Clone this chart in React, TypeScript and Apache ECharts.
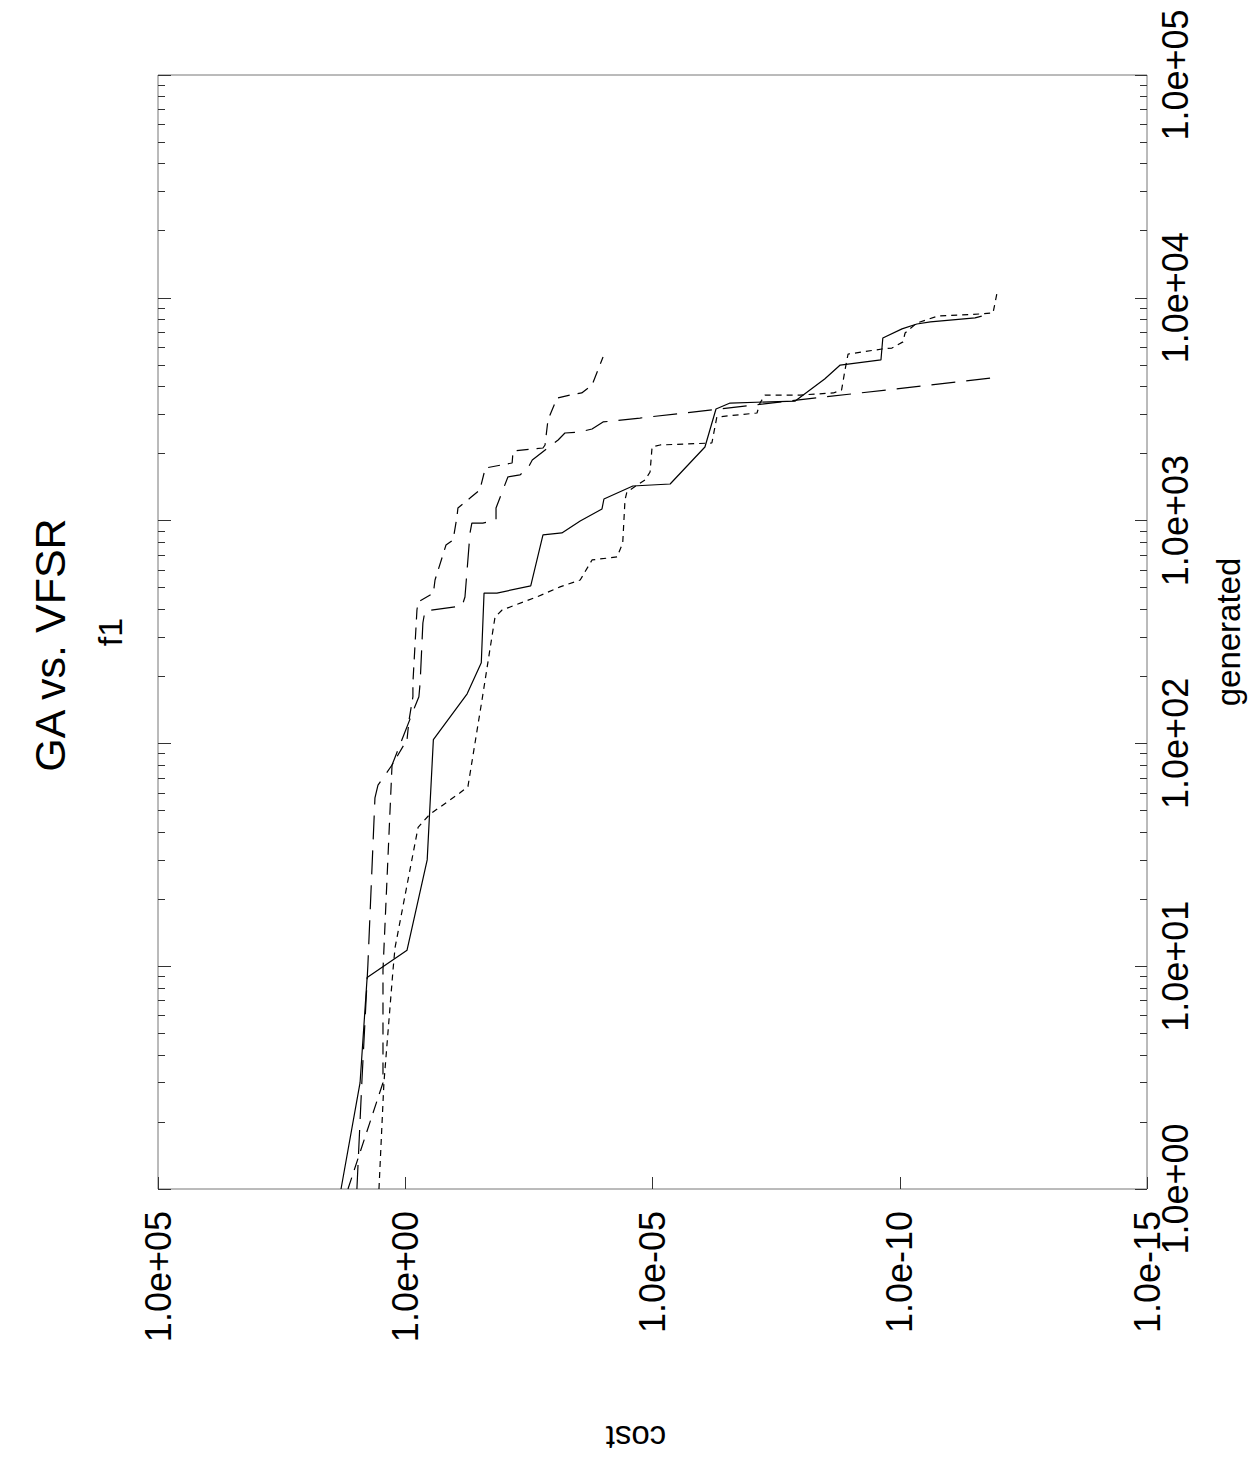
import React, { useEffect, useRef } from "react";
import * as echarts from "echarts";

// Tick values (data units)
const costTicks = [1e5, 1e0, 1e-5, 1e-10, 1e-15];
const generatedTicks = [1, 10, 100, 1000, 10000, 100000];

// Series: generated (function evaluations) and best cost
const solidGen = [1, 3.0, 8.9, 11.8, 30, 104, 167, 230, 473, 473, 509, 862, 880, 996, 1128, 1250, 1430, 1460, 2140, 3170, 3370, 3440, 4320, 4990, 5260, 6600, 7250, 7630, 7790, 8120, 8280];
const solidCost = [19.9, 8.2, 5.9, 0.92, 0.36, 0.27, 0.056, 0.029, 0.0255, 0.014, 2.9e-3, 1.64e-3, 6.8e-4, 2.9e-4, 1.05e-4, 9.6e-5, 2.5e-5, 4.4e-6, 8.7e-7, 5.2e-7, 2.7e-7, 1.3e-8, 3.3e-9, 1.6e-9, 2.4e-10, 2.2e-10, 9.0e-11, 4.5e-11, 2.4e-11, 3.0e-12, 2.2e-12];

const shortGen = [1, 3.0, 9.6, 12.1, 42, 48, 60, 64, 157, 369, 397, 454, 504, 541, 666, 687, 793, 1237, 1344, 1521, 1652, 2140, 2185, 2230, 2917, 3040, 3370, 3660, 3660, 3740, 3860, 4740, 5590, 5890, 5950, 6340, 6950, 7710, 8280, 8460, 8550, 10500];
const shortCost = [3.4, 2.7, 1.77, 1.61, 0.55, 0.32, 0.078, 0.054, 0.028, 0.0153, 0.011, 2.2e-3, 7.4e-4, 2.9e-4, 1.67e-4, 5.2e-5, 4.0e-5, 3.6e-5, 3.3e-5, 1.42e-5, 1.12e-5, 1.02e-5, 7.0e-6, 6.3e-7, 5.0e-7, 7.7e-8, 6.7e-8, 5.3e-8, 1.04e-8, 2.2e-9, 1.5e-9, 1.28e-9, 1.11e-9, 2.3e-10, 1.44e-10, 8.6e-11, 7.8e-11, 4.5e-11, 1.7e-11, 2.4e-12, 1.3e-12, 1.08e-12];

const mediumGen = [1, 3.0, 9.6, 80, 104, 127, 162, 187, 397, 431, 473, 541, 777, 818, 1038, 1140, 1262, 1372, 1722, 1814, 2053, 2118, 2185, 2830, 3550, 3660, 3740, 4060, 5420];
const mediumCost = [14.4, 2.82, 2.82, 1.85, 0.92, 0.84, 0.70, 0.70, 0.58, 0.55, 0.27, 0.25, 0.15, 0.108, 0.090, 0.086, 0.049, 0.031, 0.024, 6.9e-3, 6.6e-3, 1.64e-3, 1.49e-3, 1.30e-3, 8.5e-4, 4.7e-4, 2.7e-4, 1.67e-4, 1.0e-4];

const longGen = [1, 3.1, 10.1, 57, 65, 80, 146, 162, 187, 347, 393, 414, 454, 880, 975, 975, 1006, 1140, 1570, 1603, 1722, 1871, 2300, 2473, 2500, 2578, 2772, 2886, 4410];
const longCost = [9.5, 7.5, 5.7, 4.1, 3.56, 1.85, 0.64, 0.53, 0.50, 0.44, 0.40, 0.071, 0.062, 0.049, 0.045, 0.027, 0.0146, 0.0146, 8.4e-3, 4.8e-3, 3.3e-3, 2.7e-3, 8.1e-4, 5.9e-4, 2.9e-4, 1.67e-4, 1.0e-4, 1.8e-5, 9.4e-13];

const FONT = "Liberation Sans, Arial, Helvetica, sans-serif";

function fmtExp(logv: number): string {
  const e = Math.round(logv);
  return "1.0e" + (e < 0 ? "-" : "+") + String(Math.abs(e)).padStart(2, "0");
}

function toPoints(gen: number[], cost: number[]): number[][] {
  return gen.map((g, i) => [Math.log10(cost[i]), Math.log10(g)]);
}

const genMajor = generatedTicks.map((v) => Math.log10(v));
const genMinor: number[] = [];
for (let d = 0; d < genMajor.length - 1; d++) {
  for (let k = 2; k <= 9; k++) genMinor.push(genMajor[d] + Math.log10(k));
}
const costLog = costTicks.map((v) => Math.log10(v));

export default function App() {
  const ref = useRef<HTMLDivElement>(null);
  useEffect(() => {
    if (!ref.current) return;
    const chart = echarts.init(ref.current, undefined, { renderer: "svg" });
    const tickColor = "#333";
    const yBase = (position: string, values: number[], len: number, labels: boolean) => ({
      type: "value",
      min: 0,
      max: 5,
      position,
      axisLine: { show: false, onZero: false },
      splitLine: { show: false },
      axisTick: {
        show: true,
        inside: true,
        length: len,
        customValues: values,
        lineStyle: { color: tickColor, width: 1 },
      },
      axisLabel: labels
        ? {
            show: true,
            customValues: values,
            rotate: 90,
            margin: 10,
            fontSize: 36,
            color: "#000",
            fontFamily: FONT,
            formatter: (v: number) => fmtExp(v),
          }
        : { show: false },
    });
    const series = [
      { name: "solid", gen: solidGen, cost: solidCost, type: "solid" as any },
      { name: "short", gen: shortGen, cost: shortCost, type: [6, 5] as any },
      { name: "medium", gen: mediumGen, cost: mediumCost, type: [12, 8] as any },
      { name: "long", gen: longGen, cost: longCost, type: [24, 11] as any },
    ].map((s) => ({
      type: "line",
      name: s.name,
      xAxisIndex: 0,
      yAxisIndex: 0,
      data: toPoints(s.gen, s.cost),
      showSymbol: false,
      symbol: "none",
      lineStyle: { color: "#000", width: 1.2, type: s.type },
      silent: true,
    }));
    chart.setOption({
      animation: false,
      backgroundColor: "#fff",
      grid: {
        left: 158,
        top: 75,
        width: 989,
        height: 1114,
        show: true,
        borderColor: "#777",
        borderWidth: 1,
        backgroundColor: "transparent",
      },
      xAxis: [
        {
          type: "value",
          min: costLog[costLog.length - 1],
          max: costLog[0],
          interval: 5,
          inverse: true,
          position: "bottom",
          axisLine: { show: false, onZero: false },
          splitLine: { show: false },
          axisTick: { show: true, inside: true, length: 12, lineStyle: { color: tickColor } },
          axisLabel: {
            rotate: 90,
            margin: 22,
            fontSize: 36,
            color: "#000",
            fontFamily: FONT,
            formatter: (v: number) => fmtExp(v),
          },
        },
      ],
      yAxis: [
        yBase("right", genMajor, 12, true),
        yBase("right", genMinor, 7, false),
        yBase("left", genMajor, 13, false),
        yBase("left", genMinor, 7, false),
      ],
      graphic: [
        {
          type: "text",
          x: 50,
          y: 645,
          rotation: Math.PI / 2,
          style: { text: "GA vs. VFSR", fontSize: 43, fontFamily: FONT, fill: "#000", align: "center", verticalAlign: "middle" },
        },
        {
          type: "text",
          x: 110,
          y: 632,
          rotation: Math.PI / 2,
          style: { text: "f1", fontSize: 34, fontFamily: FONT, fill: "#000", align: "center", verticalAlign: "middle" },
        },
        {
          type: "text",
          x: 1228,
          y: 632,
          rotation: Math.PI / 2,
          style: { text: "generated", fontSize: 33, fontFamily: FONT, fill: "#000", align: "center", verticalAlign: "middle" },
        },
        {
          type: "text",
          x: 636,
          y: 1437,
          rotation: Math.PI,
          style: { text: "cost", fontSize: 33, fontFamily: FONT, fill: "#000", align: "center", verticalAlign: "middle" },
        },
      ],
      series,
    } as any);
    return () => chart.dispose();
  }, []);
  return (
    <div
      ref={ref}
      style={{ position: "absolute", left: 0, top: 0, width: 1259, height: 1464, background: "#fff" }}
    />
  );
}
